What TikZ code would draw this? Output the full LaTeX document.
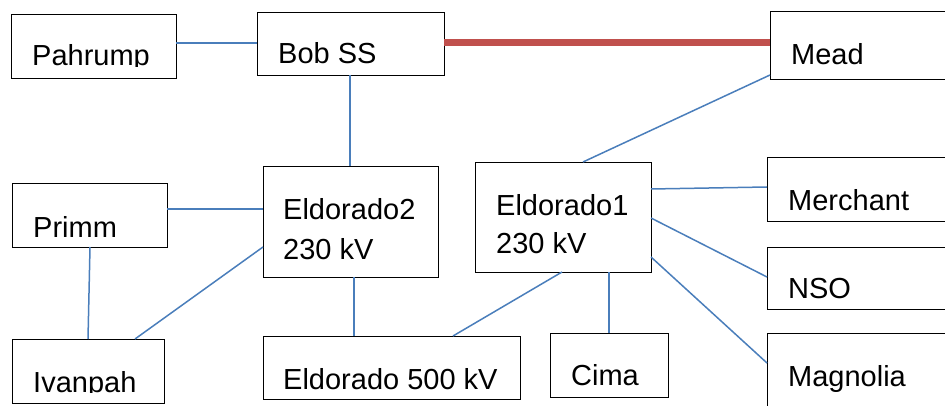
\documentclass[tikz,border=0pt]{standalone}
\usepackage{fontspec}
\setmainfont{Liberation Sans}
\begin{document}
\begin{tikzpicture}[x=1pt,y=-1pt,
  box/.style={draw=black,line width=0.9pt,inner sep=0pt,outer sep=0pt,anchor=north west},
  lbl/.style={inner sep=0pt,anchor=base west,font=\fontsize{29}{35}\selectfont},
  link/.style={draw={rgb,255:red,74;green,126;blue,187},line width=1.5pt},
  hot/.style={draw={rgb,255:red,192;green,80;blue,77},line width=7pt}]
\useasboundingbox (0,0) rectangle (945,406);
\clip (0,0) rectangle (945,406);
% boxes
\node[box,minimum width=165pt,minimum height=64pt] (pahrump) at (11,14) {};
\node[box,minimum width=187pt,minimum height=63pt] (bob) at (257,12) {};
\node[box,minimum width=190pt,minimum height=68pt] (mead) at (770,11) {};
\node[box,minimum width=155pt,minimum height=64pt] (primm) at (12,183) {};
\node[box,minimum width=175pt,minimum height=111pt] (e2) at (263,166) {};
\node[box,minimum width=176pt,minimum height=110pt] (e1) at (475,162) {};
\node[box,minimum width=190pt,minimum height=64pt] (merchant) at (767,157) {};
\node[box,minimum width=190pt,minimum height=62pt] (nso) at (767,247) {};
\node[box,minimum width=152pt,minimum height=64pt] (ivanpah) at (12,339) {};
\node[box,minimum width=257pt,minimum height=63pt] (e500) at (263,336) {};
\node[box,minimum width=118pt,minimum height=64pt] (cima) at (550,333) {};
\node[box,minimum width=190pt,minimum height=90pt] (magnolia) at (767,333) {};
% labels
\begin{scope}
\clip (0,0) rectangle (945,67);
\node[lbl] (tpahrump) at (32,66) {Pahrump};
\end{scope}
\node[lbl] (tbob) at (278,64) {Bob SS};
\node[lbl] (tmead) at (791,65) {Mead};
\node[lbl] (tprimm) at (33,237) {Primm};
\node[lbl] (te2a) at (283,219) {Eldorado2};
\node[lbl] (te2b) at (283,259) {230 kV};
\node[lbl] (te1a) at (496,215) {Eldorado1};
\node[lbl] (te1b) at (496,254) {230 kV};
\node[lbl] (tmerchant) at (788,211) {Merchant};
\node[lbl] (tnso) at (788,298) {NSO};
\begin{scope}
\clip (0,0) rectangle (270,392);
\node[lbl] (tivanpah) at (33,392) {Ivanpah};
\end{scope}
\begin{scope}
\clip (270,0) rectangle (540,389.5);
\node[lbl] (te500) at (283,389) {Eldorado 500 kV};
\end{scope}
\node[lbl] (tcima) at (571,385) {Cima};
\node[lbl] (tmagnolia) at (788,386) {Magnolia};
% connectors
\draw[link] (pahrump.east |- 0,43) -- (bob.west |- 0,43);
\draw[hot] (bob.east |- 0,43) -- (mead.west |- 0,43);
\draw[link] (bob.south -| 350,0) -- (e2.north -| 350,0);
\draw[link] (mead.west |- 0,75) -- (e1.north -| 583,0);
\draw[link] (primm.east |- 0,209) -- (e2.west |- 0,209);
\draw[link] (primm.south -| 90,0) -- (ivanpah.north -| 88,0);
\draw[link] (ivanpah.north -| 135,0) -- (e2.west |- 0,247);
\draw[link] (e2.south -| 354,0) -- (e500.north -| 354,0);
\draw[link] (e1.south -| 562,0) -- (e500.north -| 453,0);
\draw[link] (e1.south -| 609,0) -- (cima.north -| 609,0);
\draw[link] (e1.east |- 0,189) -- (merchant.west |- 0,187);
\draw[link] (e1.east |- 0,218) -- (nso.west |- 0,277);
\draw[link] (e1.east |- 0,257) -- (magnolia.west |- 0,363);
\end{tikzpicture}
\end{document}
